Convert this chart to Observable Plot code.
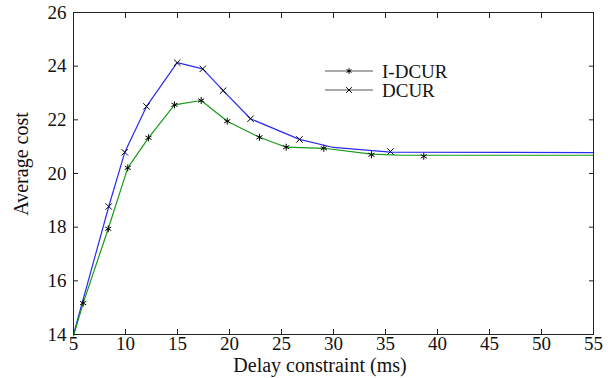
<!DOCTYPE html>
<html>
<head>
<meta charset="utf-8">
<script src="https://cdn.jsdelivr.net/npm/d3@7"></script>
<script src="https://cdn.jsdelivr.net/npm/@observablehq/plot@0.6"></script>
<style>
  html, body { margin: 0; padding: 0; background: #fff; }
  #chart svg { display: block; }
</style>
</head>
<body>
<div id="chart"></div>
<script>
// Data
const xTicks = [5, 10, 15, 20, 25, 30, 35, 40, 45, 50, 55];
const yTicks = [14, 16, 18, 20, 22, 24, 26];

const seriesNames = ["I-DCUR", "DCUR"];

// DCUR (blue line, "x" markers)
const dcurLineX = [5, 8.39, 9.93, 12.02, 14.97, 17.43, 19.39, 22.02, 26.73, 30, 35.48, 55];
const dcurLineY = [14, 18.77, 20.79, 22.50, 24.13, 23.90, 23.09, 22.04, 21.27, 20.97, 20.80, 20.78];
const dcurMarkX = [8.39, 9.93, 12.02, 14.97, 17.43, 19.39, 22.02, 26.73, 35.48];
const dcurMarkY = [18.77, 20.79, 22.50, 24.13, 23.90, 23.09, 22.04, 21.27, 20.82];

// I-DCUR (green line, "*" markers)
const idcurLineX = [5, 5.93, 8.34, 10.22, 12.21, 14.71, 17.28, 19.78, 22.88, 25.45, 29.07, 33.65, 36.5, 55];
const idcurLineY = [13.95, 15.17, 17.94, 20.21, 21.33, 22.56, 22.72, 21.95, 21.35, 20.98, 20.94, 20.72, 20.68, 20.68];
const idcurMarkX = [5.93, 8.34, 10.22, 12.21, 14.71, 17.28, 19.78, 22.88, 25.45, 29.07, 33.65, 38.68];
const idcurMarkY = [15.17, 17.94, 20.21, 21.33, 22.56, 22.72, 21.95, 21.35, 20.98, 20.94, 20.70, 20.64];

const toRows = (xs, ys) => xs.map((x, i) => ({x, y: ys[i]}));
const dcurLine = toRows(dcurLineX, dcurLineY);
const idcurLine = toRows(idcurLineX, idcurLineY);
const dcurMarks = toRows(dcurMarkX, dcurMarkY);
const idcurMarks = toRows(idcurMarkX, idcurMarkY);

const FONT = "'Liberation Serif', 'Times New Roman', serif";
const frameColor = "#222";

const plot = Plot.plot({
  width: 608,
  height: 378,
  marginLeft: 73,
  marginRight: 15,
  marginTop: 12,
  marginBottom: 44,
  style: {fontFamily: FONT, fontSize: "19px", background: "#fff", color: "#111"},
  x: {domain: [5, 55], label: null},
  y: {domain: [14, 26], label: null},
  marks: [
    Plot.line(dcurLine, {x: "x", y: "y", stroke: "#2b2bf0", strokeWidth: 1.2}),
    Plot.line(idcurLine, {x: "x", y: "y", stroke: "#179a17", strokeWidth: 1.2}),
    Plot.dot(dcurMarks, {x: "x", y: "y", symbol: "times", r: 3, stroke: "#000", strokeWidth: 1}),
    Plot.dot(idcurMarks, {x: "x", y: "y", symbol: "asterisk", r: 3.3, stroke: "#000", strokeWidth: 1}),
    Plot.axisX(xTicks, {anchor: "bottom", tickSize: -5, tickPadding: 7, stroke: frameColor, fill: "#111", fontSize: 19, label: null}),
    Plot.axisX(xTicks, {anchor: "top", tickSize: -5, tickFormat: () => "", stroke: frameColor, label: null}),
    Plot.axisY(yTicks, {anchor: "left", tickSize: -5, tickPadding: 12, stroke: frameColor, fill: "#111", fontSize: 19, label: null}),
    Plot.axisY(yTicks, {anchor: "right", tickSize: -5, tickFormat: () => "", stroke: frameColor, label: null}),
    Plot.frame({stroke: frameColor, strokeWidth: 1})
  ]
});

document.getElementById("chart").appendChild(plot);

// Axis titles and legend
const svg = d3.select(plot);
svg.append("text")
  .attr("x", 320).attr("y", 372)
  .attr("text-anchor", "middle")
  .attr("font-family", FONT).attr("font-size", 20).attr("fill", "#111")
  .text("Delay constraint (ms)");
svg.append("text")
  .attr("transform", "translate(28,164) rotate(-90)")
  .attr("text-anchor", "middle")
  .attr("font-family", FONT).attr("font-size", 20).attr("fill", "#111")
  .text("Average cost");

const legendSymbols = [d3.symbolAsterisk, d3.symbolTimes];
const legendY = [71, 90];
seriesNames.forEach((name, i) => {
  const g = svg.append("g");
  g.append("line")
    .attr("x1", 325).attr("x2", 373)
    .attr("y1", legendY[i]).attr("y2", legendY[i])
    .attr("stroke", "#555").attr("stroke-width", 1);
  g.append("path")
    .attr("transform", `translate(349,${legendY[i]})`)
    .attr("d", d3.symbol(legendSymbols[i], 22)())
    .attr("fill", "none").attr("stroke", "#000").attr("stroke-width", 1);
  g.append("text")
    .attr("x", 382).attr("y", legendY[i] + 6.5)
    .attr("text-anchor", "start")
    .attr("font-family", FONT).attr("font-size", 19).attr("fill", "#111")
    .text(name);
});
</script>
</body>
</html>
